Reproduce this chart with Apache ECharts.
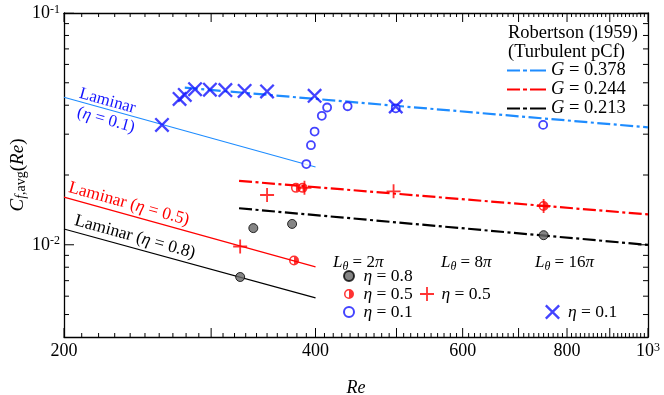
<!DOCTYPE html>
<html><head><meta charset="utf-8">
<script src="https://cdn.jsdelivr.net/npm/echarts@6/dist/echarts.min.js"></script>
<style>html,body{margin:0;padding:0;background:#fff}#c{width:664px;height:395px}</style>
</head><body><div id="c"></div>
<script>
// ---- tick values / labels (raw Re and Cf values) ----
const xMajorTicks = [200, 300, 400, 500, 600, 700, 800, 900, 1000];
const xTickLabels = [200, 400, 600, 800, 1000];
const yMajorTicks = [0.01, 0.1];
const yTickLabels = [0.01, 0.1];
const xMinorTicks = [];
for (let v = 210; v < 1000; v += 10) { if (v % 100 !== 0) xMinorTicks.push(v); }
const yMinorTicks = [0.005, 0.006, 0.007, 0.008, 0.009, 0.02, 0.03, 0.04, 0.05, 0.06, 0.07, 0.08, 0.09];
const xRange = [200, 1000];
const yRange = [0.004, 0.1];

// ---- laminar lines ----
const laminarRe = [200, 400];
const laminarEta01 = [0.0433, 0.02166];
const laminarEta05 = [0.01605, 0.00803];
const laminarEta08 = [0.0117, 0.0059];

// ---- Robertson (1959) turbulent pCf ----
const robRe378 = [279, 1000];
const robCf378 = [0.0476, 0.0321];
const robRe244 = [324, 1000];
const robCf244 = [0.01887, 0.01352];
const robRe213 = [324, 1000];
const robCf213 = [0.01437, 0.00999];

// ---- DNS markers ----
const re08L2 = [325, 337, 375, 750];
const cf08L2 = [0.00726, 0.0118, 0.0123, 0.0110];
const re05L2 = [377, 379, 386, 750];
const cf05L2 = [0.00856, 0.0176, 0.0176, 0.0147];
const re01L2 = [390, 395, 399, 407, 413, 437, 499, 749];
const cf01L2 = [0.0223, 0.0269, 0.0308, 0.0360, 0.0391, 0.0396, 0.0388, 0.0329];
const re05L8 = [325, 350, 388, 496, 750];
const cf05L8 = [0.00983, 0.0164, 0.0176, 0.0170, 0.0147];
const re01L16 = [262, 275, 279, 287, 299, 312, 329, 350, 399, 499];
const cf01L16 = [0.0329, 0.0426, 0.0443, 0.0469, 0.0467, 0.0465, 0.0461, 0.0459, 0.0439, 0.0395];

// log-log plot: both axes are drawn on log10 of the values
const L = Math.log10;
const F = '"Liberation Serif", "Times New Roman", serif';
const BLUE_LINE = '#1e8cff';
const BLUE = '#1414ff';
const RED = '#ff0000';
const zipLog = (xs, ys) => xs.map((x, i) => [L(x), L(ys[i])]);
const X0 = L(xRange[0]), X1 = L(xRange[1]), Y0 = L(yRange[0]), Y1 = L(yRange[1]);
const GRID = { left: 64, right: 16, top: 13, bottom: 58, containLabel: false, outerBoundsMode: 'none' };
const PLOT_W = 664 - GRID.left - GRID.right, PLOT_H = 395 - GRID.top - GRID.bottom;

const HALF = 'path://M0,10A10,10,0,0,1,20,10A10,10,0,0,1,0,10ZM3,10A7,7,0,0,0,17,10A7,7,0,0,0,3,10ZM10,3A7,7,0,0,1,10,17Z';
const PLUS = 'path://M8.7,0H11.3V8.7H20V11.3H11.3V20H8.7V11.3H0V8.7H8.7Z';
const CROSS = 'path://M2.2,0L20,17.8L17.8,20L0,2.2ZM17.8,0L20,2.2L2.2,20L0,17.8Z';
const DASHICON = 'path://M0,0H13V2H0ZM16,0H20V2H16ZM23,0H39V2H23Z';

const richTick = {
  b: { fontSize: 18, fontFamily: F, color: '#000', lineHeight: 19 },
  s: { fontSize: 12, fontFamily: F, color: '#000', lineHeight: 9, verticalAlign: 'top' }
};
const fmtX = v => { const r = Math.round(Math.pow(10, v)); return r >= 999 ? '{b|10}{s|3}' : '{b|' + r + '}'; };
const fmtY = v => '{b|10}{s|' + Math.round(v) + '}';

function xAx(pos, labels) {
  return {
    type: 'value', min: X0, max: X1, position: pos, gridIndex: 0,
    axisLine: { show: true, onZero: false, lineStyle: { color: '#000', width: 1.3 } },
    axisTick: { show: false },
    axisLabel: labels ? { show: true, customValues: xTickLabels.map(L), margin: 5, formatter: fmtX, rich: richTick } : { show: false },
    splitLine: { show: false }, minorTick: { show: false }, minorSplitLine: { show: false }
  };
}
function yAx(pos, labels) {
  return {
    type: 'value', min: Y0, max: Y1, position: pos, gridIndex: 0,
    axisLine: { show: true, onZero: false, lineStyle: { color: '#000', width: 1.3 } },
    axisTick: { show: false },
    axisLabel: labels ? { show: true, customValues: yTickLabels.map(L), margin: 4, formatter: fmtY, rich: richTick } : { show: false },
    splitLine: { show: false }, minorTick: { show: false }, minorSplitLine: { show: false }
  };
}

// inward tick marks: one broken line series per side/kind, each tick a short segment from the axis
let tickId = 0;
function tickLines(values, dir, side, len) {
  const data = [];
  values.forEach(v => {
    const t = L(v);
    if (dir === 'x') {
      const y0 = side === 0 ? Y0 : Y1;
      const d = (Y1 - Y0) * len / PLOT_H * (side === 0 ? 1 : -1);
      data.push([t, y0], [t, y0 + d], [t, '-']);
    } else {
      const x0 = side === 0 ? X0 : X1;
      const d = (X1 - X0) * len / PLOT_W * (side === 0 ? 1 : -1);
      data.push([x0, t], [x0 + d, t], ['-', t]);
    }
  });
  return {
    name: 'tick' + (tickId++), type: 'line', data: data, symbol: 'none', showSymbol: false,
    connectNulls: false, silent: true, z: 8,
    lineStyle: { color: '#000', width: 1 }, itemStyle: { color: '#000' }
  };
}

function lineSeries(name, xs, ys, color, width, dash) {
  return {
    name: name, type: 'line', data: zipLog(xs, ys), symbol: 'none', showSymbol: false, silent: true,
    lineStyle: { color: color, width: width, type: dash || 'solid' }, itemStyle: { color: color }, z: 2
  };
}

const DASH = [13, 3.5, 3, 3.5];
const legendNames = {
  'G = 0.378': '{i|G}{r| = 0.378}', 'G = 0.244': '{i|G}{r| = 0.244}', 'G = 0.213': '{i|G}{r| = 0.213}',
  's08L2': '{i|η}{r| = 0.8}', 's05L2': '{i|η}{r| = 0.5}', 's01L2': '{i|η}{r| = 0.1}',
  's05L8': '{i|η}{r| = 0.5}', 's01L16': '{i|η}{r| = 0.1}'
};
function legRich(fs) {
  return {
    i: { fontStyle: 'italic', fontSize: fs, fontFamily: F, color: '#000', lineHeight: 18 },
    r: { fontSize: fs, fontFamily: F, color: '#000', lineHeight: 18 }
  };
}
function leg(data, left, top, iw, ih, fs, icon) {
  const l = {
    data: data, left: left, top: top, orient: 'vertical', padding: 0, itemGap: 0,
    itemWidth: iw, itemHeight: ih, selectedMode: false, symbolKeepAspect: true,
    formatter: n => legendNames[n],
    textStyle: { fontSize: fs, fontFamily: F, color: '#000', lineHeight: 18, rich: legRich(fs) }
  };
  if (icon) l.icon = icon;
  return l;
}

const ROT = -0.271;
const gtext = (x, y, text, color, rot, align, rich, fs, italic) => ({
  type: 'text', x: x, y: y, rotation: rot || 0, silent: true, z: 20,
  style: { text: text, fill: color, fontSize: fs || 17, fontFamily: F, fontStyle: italic ? 'italic' : 'normal',
    align: align || 'center', verticalAlign: 'middle', rich: rich }
});
function richC(color, fs, ss) {
  fs = fs || 17; ss = ss || 12;
  return {
    r: { fill: color, fontSize: fs, fontFamily: F, lineHeight: 20 },
    i: { fill: color, fontSize: fs, fontFamily: F, fontStyle: 'italic', lineHeight: 20 },
    sub: { fill: color, fontSize: ss, fontFamily: F, fontStyle: 'italic', lineHeight: 8, verticalAlign: 'bottom' },
    subr: { fill: color, fontSize: ss, fontFamily: F, lineHeight: 8, verticalAlign: 'bottom' }
  };
}

const option = {
  animation: false,
  backgroundColor: '#fff',
  textStyle: { fontFamily: F },
  grid: GRID,
  xAxis: [xAx('bottom', true), xAx('top', false)],
  yAxis: [yAx('left', true), yAx('right', false)],
  legend: [
    leg(['G = 0.378', 'G = 0.244', 'G = 0.213'], 507, 61, 39, 2, 18.5, DASHICON),
    leg(['s08L2', 's05L2', 's01L2'], 343, 267, 19, 10, 17.5),
    leg(['s05L8'], 420, 285, 19, 14, 17.5),
    leg(['s01L16'], 545, 303, 21, 15, 17.5)
  ],
  series: [
    lineSeries('lam01', laminarRe, laminarEta01, BLUE_LINE, 1.2),
    lineSeries('lam05', laminarRe, laminarEta05, RED, 1.2),
    lineSeries('lam08', laminarRe, laminarEta08, '#000', 1.2),
    lineSeries('G = 0.378', robRe378, robCf378, BLUE_LINE, 2.2, DASH),
    lineSeries('G = 0.244', robRe244, robCf244, RED, 2.2, DASH),
    lineSeries('G = 0.213', robRe213, robCf213, '#000', 2.2, DASH),
    tickLines(xMajorTicks, 'x', 0, 9), tickLines(xMajorTicks, 'x', 1, 9),
    tickLines(xMinorTicks, 'x', 0, 4), tickLines(xMinorTicks, 'x', 1, 4),
    tickLines(yMajorTicks, 'y', 0, 10), tickLines(yMajorTicks, 'y', 1, 10),
    tickLines(yMinorTicks, 'y', 0, 5), tickLines(yMinorTicks, 'y', 1, 5),
    { name: 's08L2', type: 'scatter', data: zipLog(re08L2, cf08L2), symbol: 'circle', symbolSize: 9, z: 5,
      itemStyle: { color: '#666', borderColor: '#000', borderWidth: 1 } },
    { name: 's05L2', type: 'scatter', data: zipLog(re05L2, cf05L2), symbol: HALF, symbolSize: 10, z: 5,
      itemStyle: { color: RED } },
    { name: 's01L2', type: 'scatter', data: zipLog(re01L2, cf01L2), symbol: 'circle', symbolSize: 8, z: 5,
      itemStyle: { color: '#fff', borderColor: BLUE, borderWidth: 1.8 } },
    { name: 's05L8', type: 'scatter', data: zipLog(re05L8, cf05L8), symbol: PLUS, symbolSize: 14, z: 6,
      itemStyle: { color: RED } },
    { name: 's01L16', type: 'scatter', data: zipLog(re01L16, cf01L16), symbol: CROSS, symbolSize: 15, z: 6,
      itemStyle: { color: BLUE } }
  ],
  graphic: { elements: [
    gtext(107.5, 101, 'Laminar', BLUE, ROT),
    gtext(106, 120, '{r|(}{i|η}{r| = 0.1)}', BLUE, ROT, 'center', richC(BLUE)),
    gtext(129, 204, '{r|Laminar (}{i|η}{r| = 0.5)}', RED, ROT, 'center', richC(RED, 17.5)),
    gtext(135, 237, '{r|Laminar (}{i|η}{r| = 0.8)}', '#000', ROT, 'center', richC('#000', 17.5)),
    gtext(508, 33, 'Robertson (1959)', '#000', 0, 'left', null, 18.5),
    gtext(508, 52, '(Turbulent pCf)', '#000', 0, 'left', null, 18.5),
    gtext(333, 263, '{i|L}{sub|θ}{r| = 2}{i|π}', '#000', 0, 'left', richC('#000')),
    gtext(441, 263, '{i|L}{sub|θ}{r| = 8}{i|π}', '#000', 0, 'left', richC('#000')),
    gtext(535, 263, '{i|L}{sub|θ}{r| = 16}{i|π}', '#000', 0, 'left', richC('#000')),
    gtext(356, 388, 'Re', '#000', 0, 'center', null, 18, true),
    gtext(18, 175, '{i|C}{sub|f}{subr|,avg}{r|(}{i|Re}{r|)}', '#000', Math.PI / 2, 'center', richC('#000', 19, 14))
  ] }
};

const chart = echarts.init(document.getElementById('c'), null, { renderer: 'canvas', width: 664, height: 395 });
chart.setOption(option);
</script>
</body></html>
